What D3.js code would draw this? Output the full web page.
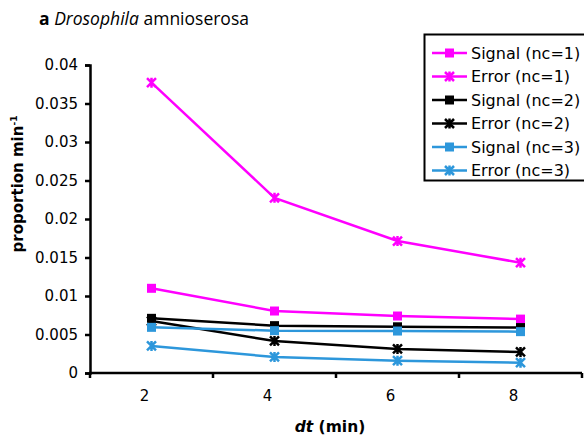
<!DOCTYPE html>
<html><head><meta charset="utf-8">
<script src="https://cdn.jsdelivr.net/npm/d3@7"></script>
<style>
body{margin:0;background:#fff;}
svg{display:block;}
text{font-family:"DejaVu Sans",Verdana,sans-serif;}
</style></head>
<body>
<svg id="chart" width="584" height="441"></svg>
<script>
const categories = ["2","4","6","8"];
const seriesNames = ["Signal (nc=1)","Error (nc=1)","Signal (nc=2)","Error (nc=2)","Signal (nc=3)","Error (nc=3)"];
const signalNc1 = [0.0110, 0.00805, 0.0074, 0.0070];
const errorNc1  = [0.0377, 0.02275, 0.01714, 0.01432];
const signalNc2 = [0.0071, 0.00615, 0.0060, 0.0059];
const errorNc2  = [0.00675, 0.00416, 0.00312, 0.00273];
const signalNc3 = [0.00593, 0.0055, 0.00545, 0.00537];
const errorNc3  = [0.00351, 0.00208, 0.0016, 0.00134];
const yTicks = [0, 0.005, 0.01, 0.015, 0.02, 0.025, 0.03, 0.035, 0.04];
const yTickLabels = ["0","0.005","0.01","0.015","0.02","0.025","0.03","0.035","0.04"];

const seriesValues = [signalNc1, errorNc1, signalNc2, errorNc2, signalNc3, errorNc3];
const seriesColors = ["#ff00ff","#ff00ff","#000000","#000000","#2d97db","#2d97db"];
const seriesMarkers = ["square","star","square","star","square","star"];

const svg = d3.select("#chart");
const x = d3.scaleBand().domain(categories).range([90, 582]);
const y = d3.scaleLinear().domain([0, 0.04]).range([373, 65]);

// Title
const title = svg.append("text").attr("x", 39).attr("y", 24.5)
  .style("font-family", "'Open Sans','Noto Sans',sans-serif").style("font-size", "17.5px");
title.append("tspan").attr("font-weight", "bold").text("a ");
title.append("tspan").attr("font-style", "italic").text("Drosophila");
title.append("tspan").text(" amnioserosa");

// Y axis
const yAxis = d3.axisLeft(y).tickValues(yTicks)
  .tickFormat((d, i) => yTickLabels[i]).tickSize(5).tickPadding(7);
const gy = svg.append("g").attr("transform", "translate(90,0)").call(yAxis);
gy.select(".domain").attr("stroke", "#000").attr("stroke-width", 2.5);
gy.selectAll(".tick line").attr("stroke-width", 2.5);
gy.selectAll("text").style("font-size", "15px").style("font-family", "'DejaVu Sans',sans-serif").attr("fill", "#000");

// X axis
const gx = svg.append("g").attr("transform", "translate(0,373)");
gx.append("line").attr("x1", x.range()[0] - 1).attr("x2", x.range()[1]).attr("y1", 0).attr("y2", 0)
  .attr("stroke", "#000").attr("stroke-width", 2.5);
const boundaries = categories.map(c => x(c)).concat([x.range()[1]]);
gx.selectAll("line.xt").data(boundaries).enter().append("line").attr("class", "xt")
  .attr("x1", d => d).attr("x2", d => d).attr("y1", 0).attr("y2", 5)
  .attr("stroke", "#000").attr("stroke-width", 2.5);
gx.selectAll("text.xl").data(categories).enter().append("text").attr("class", "xl")
  .attr("x", d => x(d) + x.bandwidth() / 2 - 7).attr("y", 28)
  .attr("text-anchor", "middle").style("font-size", "15px").text(d => d);

// Axis titles
const xt = svg.append("text").attr("x", 330).attr("y", 432).attr("text-anchor", "middle")
  .style("font-size", "15.5px").attr("font-weight", "bold");
xt.append("tspan").attr("font-style", "italic").text("dt");
xt.append("tspan").text(" (min)");

const yt = svg.append("text").attr("transform", "translate(23,184) rotate(-90)")
  .attr("text-anchor", "middle").style("font-size", "15px").attr("font-weight", "bold");
yt.append("tspan").text("proportion min");
yt.append("tspan").attr("dy", -6).style("font-size", "9px").text("-1");

// Markers
function drawMarker(g, type, color, cx, cy) {
  if (type === "square") {
    g.append("rect").attr("x", cx - 4.5).attr("y", cy - 4.5).attr("width", 9).attr("height", 9).attr("fill", color);
  } else {
    const s = 4.5;
    const p = `M${cx - s},${cy - s}L${cx + s},${cy + s}M${cx - s},${cy + s}L${cx + s},${cy - s}M${cx},${cy - s - 0.5}L${cx},${cy + s + 0.5}`;
    g.append("path").attr("d", p).attr("stroke", color).attr("stroke-width", 2.5).attr("fill", "none");
  }
}

const line = d3.line().x((d, i) => x(categories[i]) + x.bandwidth() / 2).y(d => y(d));
seriesValues.forEach((vals, si) => {
  const g = svg.append("g");
  g.append("path").attr("d", line(vals)).attr("fill", "none")
    .attr("stroke", seriesColors[si]).attr("stroke-width", 2.5);
  vals.forEach((v, i) => drawMarker(g, seriesMarkers[si], seriesColors[si], x(categories[i]) + x.bandwidth() / 2, y(v)));
});

// Legend
const lg = svg.append("g");
lg.append("rect").attr("x", 424.5).attr("y", 34.5).attr("width", 170).attr("height", 146)
  .attr("fill", "#fff").attr("stroke", "#000").attr("stroke-width", 2);
seriesNames.forEach((name, i) => {
  const cy = 53 + i * 23.5;
  lg.append("line").attr("x1", 432).attr("x2", 467).attr("y1", cy).attr("y2", cy)
    .attr("stroke", seriesColors[i]).attr("stroke-width", 2.5);
  drawMarker(lg, seriesMarkers[i], seriesColors[i], 449.5, cy);
  lg.append("text").attr("x", 471).attr("y", cy).attr("dy", "0.36em")
    .style("font-size", "16px").text(name);
});
</script>
</body></html>
